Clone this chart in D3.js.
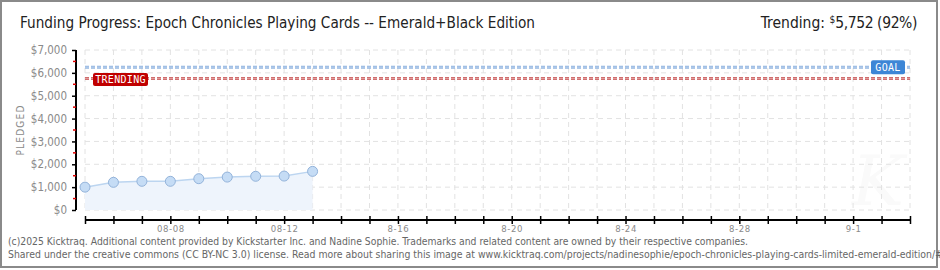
<!DOCTYPE html>
<html><head><meta charset="utf-8">
<script src="https://cdn.jsdelivr.net/npm/d3@7"></script>
<style>
html,body{margin:0;padding:0;background:#fff;}
svg{display:block;}
</style></head>
<body><svg id="c" width="940" height="270"></svg>
<script>
// ---- data ----
const dates = ["2025-08-05","2025-08-06","2025-08-07","2025-08-08","2025-08-09","2025-08-10","2025-08-11","2025-08-12","2025-08-13"];
const pledged = [1000, 1210, 1255, 1255, 1370, 1440, 1475, 1485, 1690];
const goal = 6250;
const trending = 5752;
const yTicks = [0,1000,2000,3000,4000,5000,6000,7000];
const xLabelDates = ["2025-08-08","2025-08-12","2025-08-16","2025-08-20","2025-08-24","2025-08-28","2025-09-01"];
const xLabelTexts = ["08-08","08-12","8-16","8-20","8-24","8-28","9-1"];
const titleText = "Funding Progress: Epoch Chronicles Playing Cards -- Emerald+Black Edition";
const footer1 = "(c)2025 Kicktraq. Additional content provided by Kickstarter Inc. and Nadine Sophie. Trademarks and related content are owned by their respective companies.";
const footer2 = "Shared under the creative commons (CC BY-NC 3.0) license. Read more about sharing this image at www.kicktraq.com/projects/nadinesophie/epoch-chronicles-playing-cards-limited-emerald-edition/#";

const svg = d3.select("#c");
const parse = d3.utcParse("%Y-%m-%d");
const fmtKey = d3.utcFormat("%Y-%m-%d");
const x = d3.scaleUtc().domain([parse("2025-08-05"), parse("2025-09-03")]).range([85, 910]);
const y = d3.scaleLinear().domain([0, 7000]).range([210, 50]);
const font = "'DejaVu Sans Condensed','DejaVu Sans',sans-serif";

// border
svg.append("rect").attr("x",1).attr("y",1).attr("width",936).attr("height",266)
  .attr("fill","#fff").attr("stroke","#8a8a8a").attr("stroke-width",2);

// watermark K
svg.append("text").attr("x",878).attr("y",205).attr("text-anchor","middle")
  .attr("font-family","'DejaVu Serif',serif").attr("font-style","italic").attr("font-size",70)
  .attr("fill","#fafafa").text("K");

// grid
const days = d3.utcDay.range(x.domain()[0], d3.utcDay.offset(x.domain()[1],1));
svg.append("g").selectAll("line").data(days).join("line")
  .attr("x1",d=>x(d)).attr("x2",d=>x(d)).attr("y1",y(7000)).attr("y2",y(0))
  .attr("stroke","#e2e2e2").attr("stroke-dasharray","5,4");
svg.append("g").selectAll("line").data(yTicks).join("line")
  .attr("x1",x.range()[0]).attr("x2",x.range()[1]).attr("y1",d=>y(d)).attr("y2",d=>y(d))
  .attr("stroke","#e2e2e2").attr("stroke-dasharray","5,4");

// area + line
const pts = dates.map((d,i)=>({d:parse(d), v:pledged[i]}));
svg.append("path").datum(pts)
  .attr("d", d3.area().x(p=>x(p.d)).y0(y(0)).y1(p=>y(p.v)))
  .attr("fill","#eef4fc");
svg.append("path").datum(pts)
  .attr("d", d3.line().x(p=>x(p.d)).y(p=>y(p.v)))
  .attr("fill","none").attr("stroke","#bcd5f0").attr("stroke-width",1.5);

// goal & trending lines
function refLine(v, col, col2){
  svg.append("line").attr("x1",x.range()[0]).attr("x2",x.range()[1]).attr("y1",y(v)).attr("y2",y(v))
    .attr("stroke",col).attr("stroke-width",3).attr("stroke-dasharray","4,2");
  svg.append("line").attr("x1",x.range()[0]).attr("x2",x.range()[1]).attr("y1",y(v)).attr("y2",y(v))
    .attr("stroke",col2).attr("stroke-width",1).attr("stroke-dasharray","4,2");
}
refLine(goal, "#94b6e0", "#b9d0ee");
refLine(trending, "#cf6e6e", "#e39a9a");

// points
svg.append("g").selectAll("circle").data(pts).join("circle")
  .attr("cx",p=>x(p.d)).attr("cy",p=>y(p.v)).attr("r",5)
  .attr("fill","#c5dcf5").attr("stroke","#93b3da").attr("stroke-width",1);

// badges
function badge(cx, cy, w, h, fill, txt){
  const g = svg.append("g");
  g.append("rect").attr("x",cx).attr("y",cy).attr("width",w).attr("height",h).attr("rx",2)
    .attr("fill",fill);
  g.append("text").attr("x",cx+w/2).attr("y",cy+h/2+3.5).attr("text-anchor","middle")
    .attr("font-family","'DejaVu Sans Mono',monospace").attr("font-size",10)
    .attr("fill","#fff").attr("letter-spacing",0.3).text(txt);
}
badge(871, y(goal)-7, 34, 14, "#3d86d6", "GOAL");
badge(93, y(trending)-5.5, 55, 13, "#c00000", "TRENDING");

// y axis
const yAxis = svg.append("g").attr("transform","translate(76,0)")
  .call(d3.axisLeft(y).tickValues(yTicks).tickSize(4).tickPadding(5)
    .tickFormat(d=>"$"+d3.format(",")(d)));
yAxis.select(".domain").attr("stroke","#000").attr("stroke-width",2).attr("d","M0,"+y(7000)+"V"+y(0));
yAxis.selectAll(".tick line").attr("stroke","#000").attr("stroke-width",1.5);
yAxis.selectAll("text").attr("font-family",font).attr("font-size",11.5).attr("fill","#8a8a8a");
const minor = yTicks.slice(0,-1).map(v=>v+500);
svg.append("g").selectAll("line").data(minor).join("line")
  .attr("x1",73).attr("x2",76).attr("y1",d=>y(d)).attr("y2",d=>y(d))
  .attr("stroke","#e00000").attr("stroke-width",1.5);

// y title
svg.append("text").attr("transform","translate(24,130) rotate(-90)").attr("text-anchor","middle")
  .attr("font-family",font).attr("font-size",10).attr("letter-spacing",1.2).attr("fill","#8a8a8a").text("PLEDGED");

// x axis
const labelMap = new Map(xLabelDates.map((d,i)=>[d, xLabelTexts[i]]));
const xAxis = svg.append("g").attr("transform","translate(0,220)")
  .call(d3.axisBottom(x).tickValues(days).tickSize(4).tickPadding(1)
    .tickFormat(d=>labelMap.get(fmtKey(d))||""));
xAxis.select(".domain").attr("stroke","#000").attr("stroke-width",2).attr("d","M"+x.range()[0]+",0H"+x.range()[1]);
xAxis.selectAll(".tick line").attr("stroke","#000").attr("stroke-width",1.5).attr("y1",-4).attr("y2",4);
xAxis.selectAll("text").attr("font-family",font).attr("font-size",9.5).attr("letter-spacing",0.6).attr("fill","#8a8a8a");

// title
svg.append("text").attr("x",20).attr("y",28).attr("font-family",font).attr("font-size",16.5)
  .attr("fill","#222").attr("textLength",515).attr("lengthAdjust","spacingAndGlyphs").text(titleText);

// trending header
const th = svg.append("text").attr("x",917).attr("y",28).attr("text-anchor","end")
  .attr("font-family",font).attr("font-size",15.5).attr("fill","#222");
th.append("tspan").text("Trending:  ");
th.append("tspan").attr("font-size",10).attr("dy",-5).text("$");
th.append("tspan").attr("dy",5).attr("letter-spacing",-0.4).text(d3.format(",")(trending)+" (92%)");

// footer
svg.append("text").attr("x",8).attr("y",245).attr("font-family",font).attr("font-size",10)
  .attr("fill","#666").attr("textLength",740).attr("lengthAdjust","spacingAndGlyphs").text(footer1);
svg.append("text").attr("x",8).attr("y",258).attr("font-family",font).attr("font-size",10)
  .attr("fill","#666").attr("textLength",935).attr("lengthAdjust","spacingAndGlyphs").text(footer2);
</script>
</body></html>
